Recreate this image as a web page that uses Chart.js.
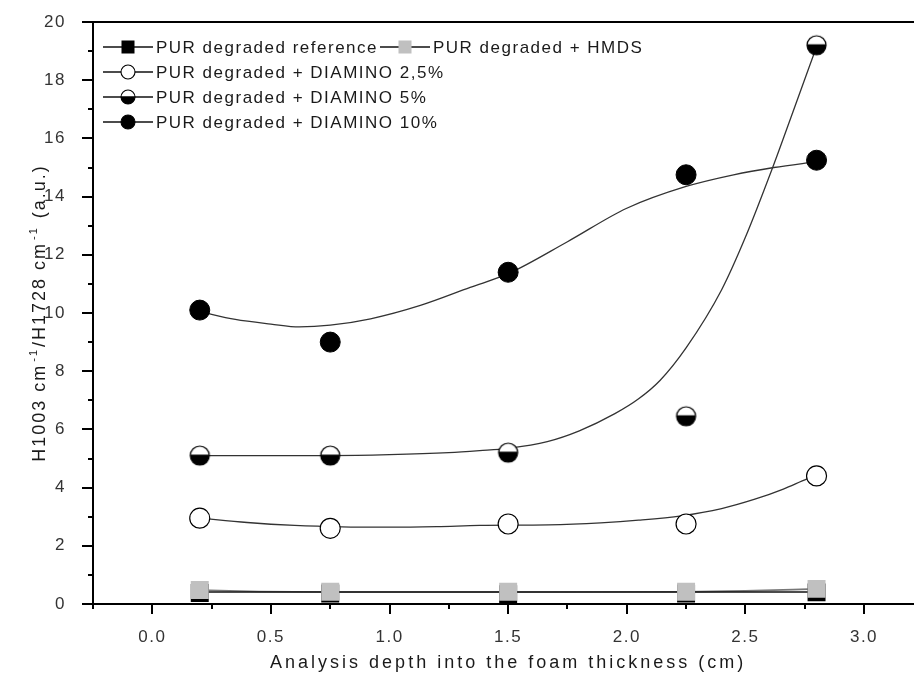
<!DOCTYPE html>
<html><head><meta charset="utf-8">
<script src="https://cdn.jsdelivr.net/npm/chart.js@4.4.0/dist/chart.umd.min.js"></script>
<style>
html,body{margin:0;padding:0;background:#fff;overflow:hidden}
#wrap{width:914px;height:682px;overflow:hidden;position:relative;background:#fff}
canvas{display:block}
</style></head>
<body><div id="wrap"><canvas id="c" width="936" height="682" style="width:936px;height:682px"></canvas></div>
<script>
// ---------- data ----------
const depth = [0.2, 0.75, 1.5, 2.25, 2.8];
const refVals = [0.38, 0.36, 0.34, 0.36, 0.40];
const hmdsVals = [0.48, 0.42, 0.42, 0.42, 0.52];
const diam25Vals = [2.95, 2.6, 2.75, 2.75, 4.4];
const diam5Vals = [5.1, 5.1, 5.2, 6.45, 19.2];
const diam10Vals = [10.1, 9.0, 11.4, 14.75, 15.25];

// fitted curves
const fitRefX = [0.2, 2.8];
const fitRefY = [0.41, 0.41];
const fitHmdsX = [0.2, 0.45, 0.75, 1.5, 2.25, 2.5, 2.8];
const fitHmdsY = [0.48, 0.43, 0.41, 0.41, 0.42, 0.45, 0.52];
const fit25X = [0.2, 0.4, 0.6, 0.8, 1.0, 1.2, 1.38, 1.67, 1.89, 2.05, 2.23, 2.4, 2.54, 2.66, 2.76, 2.8];
const fit25Y = [2.95, 2.8, 2.7, 2.65, 2.64, 2.66, 2.7, 2.72, 2.79, 2.88, 3.03, 3.28, 3.6, 3.95, 4.3, 4.42];
const fit5X = [0.2, 0.75, 1.0, 1.25, 1.38, 1.5, 1.665, 1.8, 1.95, 2.05, 2.14, 2.25, 2.4, 2.5, 2.615, 2.7, 2.8];
const fit5Y = [5.1, 5.1, 5.13, 5.2, 5.27, 5.35, 5.58, 5.95, 6.54, 7.05, 7.68, 8.8, 10.8, 12.6, 15.0, 16.9, 19.15];
const fit10X = [0.2, 0.35, 0.5, 0.62, 0.75, 0.92, 1.13, 1.34, 1.5, 1.75, 2.0, 2.25, 2.45, 2.62, 2.8];
const fit10Y = [10.05, 9.78, 9.62, 9.52, 9.58, 9.8, 10.26, 10.88, 11.35, 12.45, 13.6, 14.35, 14.75, 15.0, 15.2];

const seriesNames = ['PUR degraded reference', 'PUR degraded + HMDS', 'PUR degraded + DIAMINO 2,5%', 'PUR degraded + DIAMINO 5%', 'PUR degraded + DIAMINO 10%'];
const xTitle = 'Analysis depth into the foam thickness (cm)';
const yTitleParts = [['H1003 cm', false], ['-1', true], ['/H1728 cm', false], ['-1', true], [' (a.u.)', false]];
const xMin = -0.25, xMax = 3.25, xStep = 0.25;
const yMin = 0, yMax = 20, yStep = 1;

// ---------- helpers ----------
const FONT = "'Liberation Sans', Arial, 'DejaVu Sans', sans-serif";
const zip = (xs, ys) => xs.map((x, i) => ({x, y: ys[i]}));

function halfCircle(r, lw) {
  const s = Math.ceil(2 * r + lw + 2);
  const cv = document.createElement('canvas');
  cv.width = s; cv.height = s;
  const g = cv.getContext('2d');
  const c = s / 2;
  g.beginPath(); g.arc(c, c, r, 0, Math.PI * 2); g.fillStyle = '#fff'; g.fill();
  g.beginPath(); g.arc(c, c, r, -0.1, Math.PI + 0.1, false); g.closePath(); g.fillStyle = '#000'; g.fill();
  g.beginPath(); g.arc(c, c, r, 0, Math.PI * 2); g.lineWidth = lw; g.strokeStyle = '#000'; g.stroke();
  return cv;
}
const halfBig = halfCircle(9.5, 1.2);

function fitDs(xs, ys, color, width) {
  return {data: zip(xs, ys), showLine: true, pointRadius: 0, borderColor: color,
    borderWidth: width, cubicInterpolationMode: 'monotone', fill: false, order: 20};
}
function ptDs(vals, style, radius, bg, border, bw, order) {
  return {data: zip(depth, vals), showLine: false, pointStyle: style, pointRadius: radius,
    pointBackgroundColor: bg, pointBorderColor: border, pointBorderWidth: bw, order};
}

// ---------- plugins ----------
const frame = {
  id: 'frame',
  beforeDatasetsDraw(chart) {
    const {ctx, chartArea: a, scales: {x, y}} = chart;
    ctx.save();
    ctx.strokeStyle = '#000';
    ctx.lineWidth = 2;
    ctx.beginPath();
    ctx.moveTo(a.left, a.top); ctx.lineTo(a.left, a.bottom + 1);
    ctx.moveTo(a.left - 1, a.bottom); ctx.lineTo(a.right, a.bottom);
    ctx.moveTo(a.left, a.top); ctx.lineTo(a.right, a.top);
    ctx.stroke();
    ctx.beginPath();
    for (let v = yMin; v <= yMax + 1e-9; v += yStep) {
      const py = Math.round(y.getPixelForValue(v));
      const len = (Math.round(v) % 2 === 0) ? 11 : 5;
      ctx.moveTo(a.left, py); ctx.lineTo(a.left - len, py);
    }
    for (let k = 0; xMin + k * xStep <= xMax + 1e-9; k++) {
      const v = xMin + k * xStep;
      const px = Math.round(x.getPixelForValue(v));
      const major = Math.abs(v * 2 - Math.round(v * 2)) < 1e-6;
      const len = major ? 10 : 5;
      ctx.moveTo(px, a.bottom); ctx.lineTo(px, a.bottom + len);
    }
    ctx.stroke();
    ctx.restore();
  },
  afterDraw(chart) {
    const {ctx, chartArea: a, scales: {x}} = chart;
    ctx.save();
    ctx.fillStyle = '#1a1a1a';
    // x title
    ctx.font = '18px ' + FONT;
    ctx.letterSpacing = '3px';
    ctx.textAlign = 'center';
    ctx.textBaseline = 'middle';
    ctx.fillText(xTitle, (a.left + Math.min(a.right, x.getPixelForValue(3.25))) / 2, 663);
    // y title with superscripts
    ctx.translate(38, (a.top + a.bottom) / 2);
    ctx.rotate(-Math.PI / 2);
    ctx.textAlign = 'left';
    ctx.textBaseline = 'alphabetic';
    ctx.letterSpacing = '2px';
    let total = 0;
    const widths = yTitleParts.map(([t, sup]) => {
      ctx.font = (sup ? '11px ' : '18px ') + FONT;
      const w = ctx.measureText(t).width + (sup ? 3 : 0);
      total += w; return w;
    });
    let cx = -total / 2;
    yTitleParts.forEach(([t, sup], i) => {
      ctx.font = (sup ? '11px ' : '18px ') + FONT;
      ctx.fillText(t, cx + (sup ? 2 : 0), sup ? -1 : 7);
      cx += widths[i];
    });
    ctx.restore();

    // legend
    ctx.save();
    ctx.font = '17px ' + FONT;
    ctx.letterSpacing = '1.5px';
    ctx.textBaseline = 'middle';
    ctx.textAlign = 'left';
    const rows = [
      {x: 103, y: 47, kind: 'sqBlack', text: seriesNames[0]},
      {x: 380, y: 47, kind: 'sqGray', text: seriesNames[1]},
      {x: 103, y: 72, kind: 'open', text: seriesNames[2]},
      {x: 103, y: 97, kind: 'half', text: seriesNames[3]},
      {x: 103, y: 122, kind: 'full', text: seriesNames[4]},
    ];
    rows.forEach(r => {
      ctx.strokeStyle = '#111';
      ctx.lineWidth = 1.4;
      ctx.beginPath(); ctx.moveTo(r.x, r.y); ctx.lineTo(r.x + 50, r.y); ctx.stroke();
      const mx = r.x + 25, my = r.y;
      if (r.kind === 'sqBlack' || r.kind === 'sqGray') {
        ctx.fillStyle = r.kind === 'sqBlack' ? '#000' : '#c0c0c0';
        ctx.fillRect(mx - 6.5, my - 6.5, 13, 13);
      } else if (r.kind === 'half') {
        const hc = halfCircle(7, 1.1);
        ctx.drawImage(hc, mx - hc.width / 2, my - hc.height / 2);
      } else {
        ctx.beginPath(); ctx.arc(mx, my, 7, 0, Math.PI * 2);
        ctx.fillStyle = r.kind === 'full' ? '#000' : '#fff';
        ctx.fill();
        ctx.lineWidth = 1.1; ctx.strokeStyle = '#000'; ctx.stroke();
      }
      ctx.fillStyle = '#1a1a1a';
      ctx.fillText(r.text, r.x + 53, r.y + 1);
    });
    ctx.restore();
  }
};

const spacingPlugin = {
  id: 'spacing',
  beforeDraw(chart) { chart.ctx.letterSpacing = '1.5px'; }
};

new Chart(document.getElementById('c'), {
  type: 'scatter',
  data: {
    datasets: [
      fitDs(fitRefX, fitRefY, '#111', 1.6),
      fitDs(fitHmdsX, fitHmdsY, '#777', 1.6),
      fitDs(fit25X, fit25Y, '#333', 1.3),
      fitDs(fit5X, fit5Y, '#333', 1.3),
      fitDs(fit10X, fit10Y, '#333', 1.3),
      ptDs(refVals, 'rect', 12.7, '#000', '#000', 0, 9),
      ptDs(hmdsVals, 'rect', 12.7, '#c0c0c0', '#c0c0c0', 0, 8),
      ptDs(diam25Vals, 'circle', 10, '#fff', '#000', 1.2, 3),
      ptDs(diam5Vals, halfBig, 10, '#fff', '#000', 1.2, 2),
      ptDs(diam10Vals, 'circle', 10, '#000', '#000', 1, 1),
    ]
  },
  options: {
    responsive: false,
    animation: false,
    events: [],
    layout: {padding: {top: 22, left: 0, right: 0, bottom: 0}},
    plugins: {legend: {display: false}, tooltip: {enabled: false}, title: {display: false}},
    scales: {
      x: {
        type: 'linear', min: xMin, max: xMax,
        grid: {display: false}, border: {display: false},
        ticks: {
          stepSize: xStep, autoSkip: false, maxRotation: 0, padding: 15,
          color: '#333', font: {family: FONT, size: 17},
          callback: v => (Math.abs(v * 2 - Math.round(v * 2)) < 1e-6 ? Number(v).toFixed(1) : '')
        },
        afterFit: s => { s.height = 78; s.paddingLeft = 0; s.paddingRight = 0; }
      },
      y: {
        type: 'linear', min: yMin, max: yMax,
        grid: {display: false}, border: {display: false},
        ticks: {
          stepSize: yStep, autoSkip: false, padding: 19,
          color: '#333', font: {family: FONT, size: 17},
          callback: v => (Math.round(v) % 2 === 0 ? String(Math.round(v)) : '')
        },
        afterFit: s => { s.width = 93; s.paddingTop = 0; s.paddingBottom = 0; }
      }
    }
  },
  plugins: [spacingPlugin, frame]
});
</script>
</body></html>
